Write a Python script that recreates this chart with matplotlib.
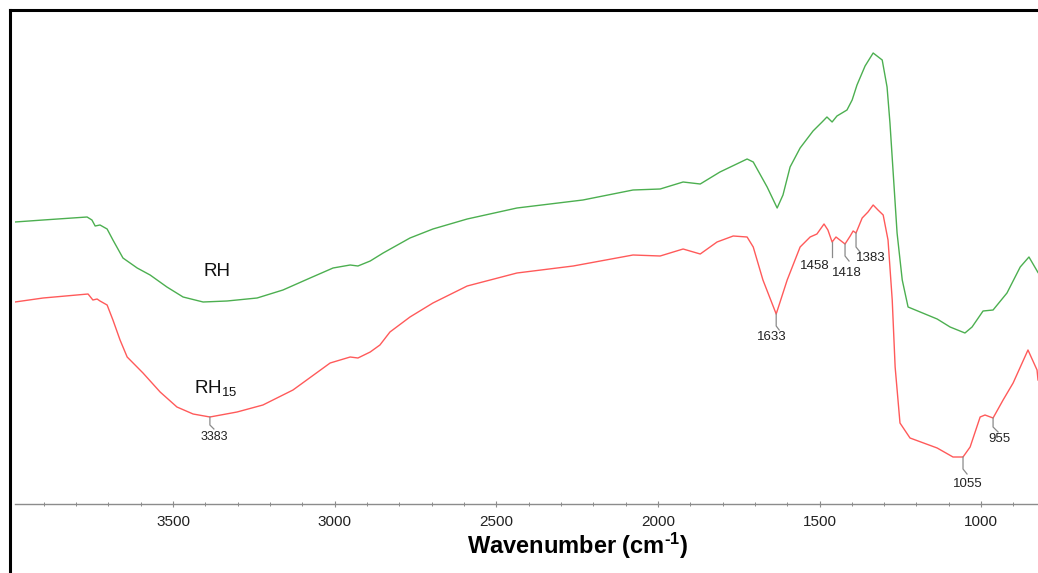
import numpy as np
import matplotlib
matplotlib.use("Agg")
import matplotlib.pyplot as plt
from matplotlib.lines import Line2D

plt.rcParams['font.family'] = ['Liberation Sans', 'DejaVu Sans']
plt.rcParams['mathtext.fontset'] = 'custom'
plt.rcParams['mathtext.rm'] = 'Liberation Sans'
plt.rcParams['mathtext.it'] = 'Liberation Sans'
plt.rcParams['mathtext.bf'] = 'Liberation Sans:bold'

# ---- data (wavenumber cm-1, transmittance a.u.) ----
rh_wn = [3989, 3902, 3766, 3751, 3741, 3726, 3704, 3686, 3655, 3611, 3571, 3519,
         3469, 3407, 3333, 3240, 3160, 3076, 3005, 2952, 2928, 2890, 2850, 2767,
         2696, 2590, 2436, 2232, 2077, 1993, 1922, 1869, 1808, 1724, 1705, 1662,
         1631, 1613, 1591, 1560, 1520, 1492, 1477, 1461, 1446, 1415, 1399, 1384,
         1359, 1334, 1306, 1291, 1282, 1272, 1260, 1244, 1226, 1136, 1096, 1050,
         1028, 994, 963, 920, 879, 852, 824]
rh_t = [59.6, 60.0, 60.6, 60.0, 58.8, 59.0, 58.2, 56.0, 52.4, 50.4, 49.0, 46.6,
        44.6, 43.6, 43.8, 44.4, 46.0, 48.4, 50.4, 51.0, 50.8, 51.8, 53.4, 56.4,
        58.2, 60.2, 62.4, 64.0, 66.0, 66.2, 67.6, 67.2, 69.6, 72.2, 71.6, 66.6,
        62.4, 65.0, 70.6, 74.4, 77.8, 79.6, 80.6, 79.6, 80.8, 82.0, 84.0, 87.0,
        90.8, 93.4, 92.0, 86.6, 79.4, 69.4, 57.4, 48.0, 42.6, 40.2, 38.6, 37.4,
        38.6, 41.8, 42.0, 45.4, 50.6, 52.6, 49.5]

rh15_wn = [3989, 3902, 3763, 3748, 3735, 3726, 3704, 3686, 3664, 3642, 3593, 3540,
           3488, 3438, 3386, 3302, 3222, 3129, 3014, 2952, 2928, 2890, 2860, 2829,
           2767, 2696, 2590, 2436, 2262, 2077, 1993, 1922, 1869, 1817, 1767, 1724,
           1705, 1675, 1634, 1600, 1560, 1529, 1508, 1486, 1474, 1461, 1449, 1421,
           1405, 1396, 1387, 1368, 1350, 1334, 1319, 1303, 1288, 1275, 1266, 1251,
           1220, 1136, 1087, 1056, 1034, 1003, 988, 963, 932, 901, 855, 827, 824]
rh15_t = [43.6, 44.4, 45.2, 44.0, 44.2, 43.8, 43.0, 40.0, 36.0, 32.6, 29.4, 25.6,
          22.6, 21.2, 20.6, 21.6, 23.0, 26.0, 31.4, 32.6, 32.4, 33.6, 35.0, 37.6,
          40.6, 43.4, 46.8, 49.4, 50.8, 53.0, 52.8, 54.2, 53.2, 55.6, 56.8, 56.6,
          54.6, 48.0, 41.2, 48.0, 54.6, 56.6, 57.2, 59.2, 58.0, 55.6, 56.6, 55.2,
          56.8, 57.8, 57.4, 60.4, 61.6, 63.0, 62.0, 61.0, 56.0, 44.0, 30.6, 19.4,
          16.4, 14.4, 12.6, 12.6, 14.6, 20.6, 21.0, 20.4, 24.0, 27.4, 34.0, 30.0, 28.0]

peak_labels = ['3383', '1633', '1458', '1418', '1383', '1055', '955']
peak_wn = [3386, 1634, 1461, 1421, 1387, 1056, 963]

xticks = [3500, 3000, 2500, 2000, 1500, 1000]

# ---- figure ----
W, H = 1038, 573
fig = plt.figure(figsize=(W / 100, H / 100), dpi=100)
ax_l, ax_r, ax_b, ax_t = 15, 1038, 504, 10
ax = fig.add_axes([ax_l / W, (H - ax_b) / H, (ax_r - ax_l) / W, (ax_b - ax_t) / H])
xl = (3989, 824)
yl = (3.2, 102.0)
ax.set_xlim(*xl)
ax.set_ylim(*yl)

ax.plot(rh_wn, rh_t, color='#4caf50', lw=1.0, solid_joinstyle='round')
ax.plot(rh15_wn, rh15_t, color='#ff5a5a', lw=1.0, solid_joinstyle='round')

for s in ['top', 'right', 'left']:
    ax.spines[s].set_visible(False)
ax.spines['bottom'].set_color('#8c8c8c')
ax.spines['bottom'].set_linewidth(1.0)
ax.set_yticks([])
ax.set_xticks(xticks)
ax.set_xticks(np.arange(900, 4000, 100), minor=True)
ax.tick_params(axis='x', which='major', direction='inout', length=4, width=0.8,
               color='#8c8c8c', labelsize=11, pad=6, labelcolor='#222222')
ax.tick_params(axis='x', which='minor', direction='inout', length=3, width=0.7,
               color='#8c8c8c')
ax.set_xlabel('Wavenumber (cm$^{\\mathbf{\u2010}\\mathbf{1}}$)', fontsize=17, fontweight='bold',
              labelpad=0, color='black')
ax.xaxis.set_label_coords((578 - ax_l) / (ax_r - ax_l), -(531 - ax_b) / (ax_b - ax_t))

# px -> data scale
dxp = (xl[0] - xl[1]) / (ax_r - ax_l)
dyp = (yl[1] - yl[0]) / (ax_b - ax_t)

# annotation leader geometry in px: (vertical, diag dx, diag dy, label dx, label dy, fontsize)
geom = {
    '3383': (8, 4, 4, 4, 20, 9),
    '1633': (12, 3, 4, -4, 23, 9.5),
    '1458': (15, 0, 0, -17, 24, 9.5),
    '1418': (12, 4, 5, 2, 29, 9.5),
    '1383': (14, 4, 5, 15, 25, 9.5),
    '1055': (12, 4, 5, 5, 27, 9.5),
    '955': (9, 5, 5, 6, 21, 9.5),
}
rwn = np.array(rh15_wn)[::-1]
rt = np.array(rh15_t)[::-1]
for lab, wn in zip(peak_labels, peak_wn):
    y0 = np.interp(wn, rwn, rt)
    v, ddx, ddy, lx, ly, fs = geom[lab]
    xs = [wn, wn, wn - ddx * dxp]
    ys = [y0, y0 - v * dyp, y0 - (v + ddy) * dyp]
    ax.plot(xs, ys, color='#8a8a8a', lw=0.9)
    ax.text(wn - lx * dxp, y0 - ly * dyp, lab, fontsize=fs, ha='center', va='center',
            color='#222222')

ax.text(3365, (520 - 272) / 5, 'RH', fontsize=13.5, ha='center', va='center', color='#111111')
ax.text(3368, (520 - 388) / 5, 'RH$_{\\mathregular{15}}$', fontsize=13.5, ha='center',
        va='center', color='#111111')

# outer black frame (left and top)
fig.add_artist(Line2D([9.5 / W, 9.5 / W], [0, 1 - 10 / H], color='black', lw=2.2,
                      transform=fig.transFigure, solid_capstyle='projecting'))
fig.add_artist(Line2D([9.5 / W, 1], [1 - 10 / H, 1 - 10 / H], color='black', lw=2.2,
                      transform=fig.transFigure, solid_capstyle='projecting'))

fig.savefig('out.png', dpi=100)
